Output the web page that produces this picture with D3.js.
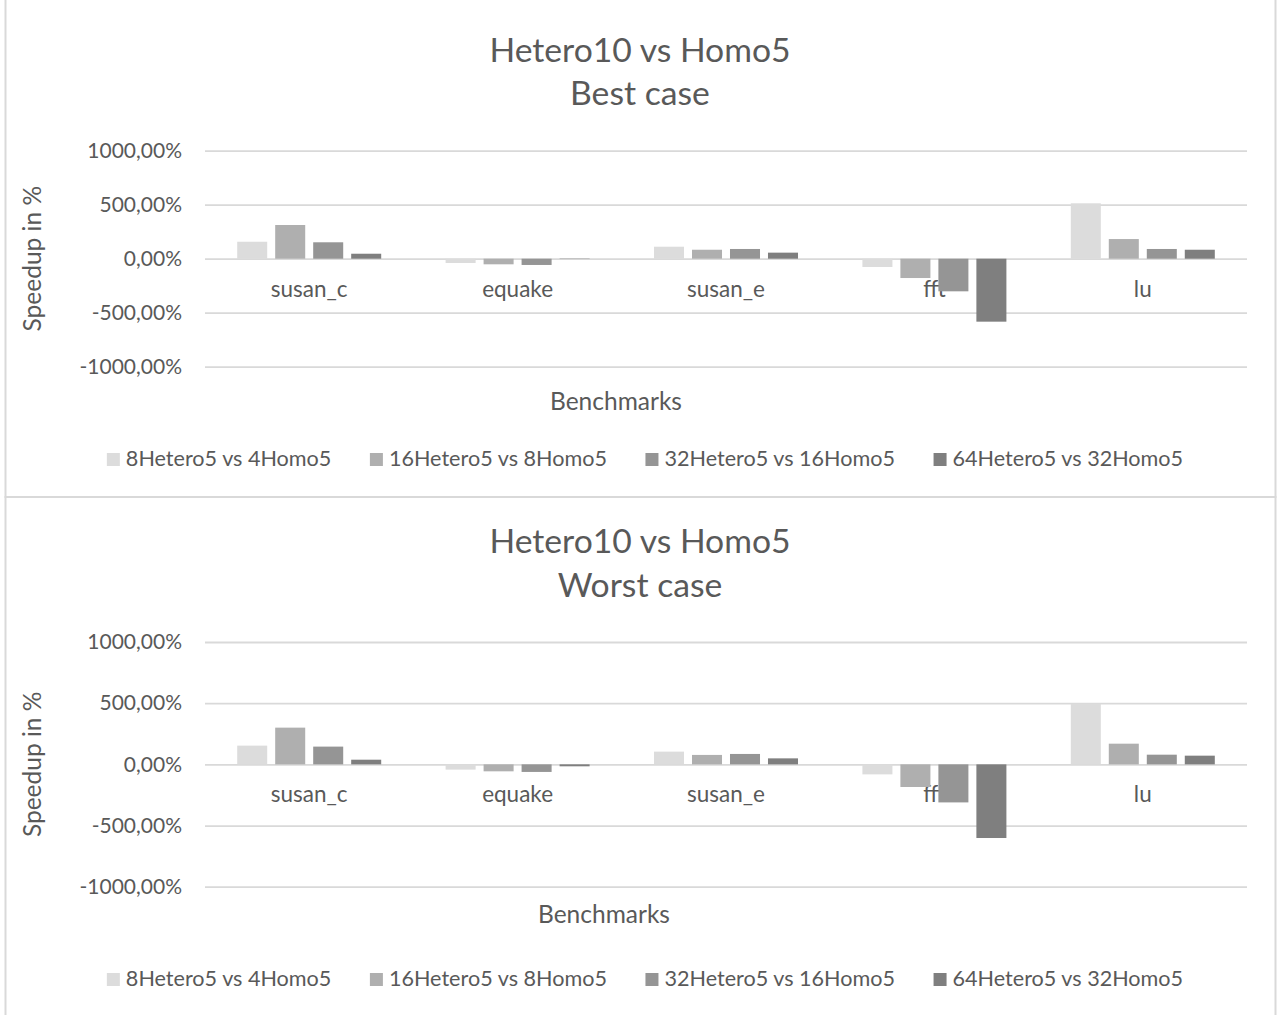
<!DOCTYPE html>
<html>
<head>
<meta charset="utf-8">
<script src="https://cdn.jsdelivr.net/npm/d3@7"></script>
<style>
  html, body { margin: 0; padding: 0; background: #ffffff; }
  svg { display: block; }
  text { font-family: Lato, "Open Sans", sans-serif; fill: #595959; }
</style>
</head>
<body>
<svg id="chart" width="1279" height="1015"></svg>
<script>
// Benchmarks on the category axis
const categories = ["susan_c", "equake", "susan_e", "fft", "lu"];

// Series names (legend order)
const seriesNames = [
  "8Hetero5 vs 4Homo5",
  "16Hetero5 vs 8Homo5",
  "32Hetero5 vs 16Homo5",
  "64Hetero5 vs 32Homo5"
];
const seriesColors = ["#dcdcdc", "#afafaf", "#959595", "#7f7f7f"];

// Speedup in %, best case
const best8vs4   = [157, -40, 111, -77, 513];
const best16vs8  = [312, -52, 83, -179, 182];
const best32vs16 = [152, -58, 90, -302, 90];
const best64vs32 = [46, -3, 56, -583, 83];

// Speedup in %, worst case
const worst8vs4   = [153, -43, 104, -82, 496];
const worst16vs8  = [300, -57, 77, -185, 169];
const worst32vs16 = [145, -62, 85, -311, 79];
const worst64vs32 = [38, -16, 49, -602, 71];

const yTicks = [-1000, -500, 0, 500, 1000];

const titleLine1 = "Hetero10 vs Homo5";
const xAxisTitle = "Benchmarks";
const yAxisTitle = "Speedup in %";

// Decimal comma, plain hyphen minus, no thousands grouping: 1000,00%
const locale = d3.formatLocale({ decimal: ",", thousands: ".", grouping: [], currency: ["", ""], minus: "-" });
const fmt = v => locale.format(".2f")(v) + "%";

const svg = d3.select("#chart");
const gridColor = "#d9d9d9";

function drawChart(cfg) {
  const g = svg.append("g");

  // chart frame
  g.append("rect")
    .attr("x", 5.5).attr("y", cfg.frameTop)
    .attr("width", 1270).attr("height", cfg.frameHeight)
    .attr("fill", "none").attr("stroke", gridColor).attr("stroke-width", 2);

  // title
  g.append("text")
    .attr("x", 640).attr("y", cfg.titleY1)
    .attr("text-anchor", "middle").style("font-size", "33.7px")
    .text(titleLine1);
  g.append("text")
    .attr("x", 640).attr("y", cfg.titleY2)
    .attr("text-anchor", "middle").style("font-size", "33.7px")
    .text(cfg.subtitle);

  const x0 = d3.scaleBand().domain(categories).range([205, 1247]).paddingInner(0).paddingOuter(0);
  const bw = x0.bandwidth();
  const x1 = d3.scaleBand().domain(d3.range(seriesNames.length))
    .range([bw * 0.1545, bw * 0.8455]).paddingInner(0.21).paddingOuter(0);
  const y = d3.scaleLinear().domain([-1000, 1000]).range([cfg.plotBottom, cfg.plotTop]);

  // gridlines + tick labels
  const yAxis = d3.axisLeft(y).tickValues(yTicks).tickFormat(fmt).tickSize(-(1247 - 205)).tickPadding(23);
  const ag = g.append("g").attr("transform", "translate(205,0)").call(yAxis);
  ag.select(".domain").remove();
  ag.selectAll(".tick line").attr("stroke", gridColor).attr("stroke-width", 1.8);
  ag.selectAll(".tick text")
    .attr("fill", "#595959").style("font-size", "21px")
    .style("font-family", "Lato, 'Open Sans', sans-serif");

  // category labels, drawn beneath the bars
  g.append("g").selectAll("text").data(categories).join("text")
    .attr("x", d => x0(d) + bw / 2)
    .attr("y", y(0) + 38)
    .attr("text-anchor", "middle").style("font-size", "22.5px")
    .text(d => d);

  // bars
  const groups = g.append("g").selectAll("g").data(categories).join("g")
    .attr("transform", d => `translate(${x0(d)},0)`);
  groups.selectAll("rect")
    .data((d, i) => cfg.series.map((s, k) => ({ k, v: s[i] })))
    .join("rect")
    .attr("x", d => x1(d.k))
    .attr("width", x1.bandwidth())
    .attr("y", d => y(Math.max(0, d.v)))
    .attr("height", d => Math.abs(y(d.v) - y(0)))
    .attr("fill", d => seriesColors[d.k]);

  // axis titles
  g.append("text")
    .attr("x", cfg.xTitleX).attr("y", cfg.xTitleY)
    .attr("text-anchor", "middle").style("font-size", "24.5px")
    .text(xAxisTitle);
  g.append("text")
    .attr("transform", `translate(41,${(cfg.plotTop + cfg.plotBottom) / 2}) rotate(-90)`)
    .attr("text-anchor", "middle").style("font-size", "24.5px")
    .text(yAxisTitle);

  // legend, centred under the plot
  const lg = g.append("g");
  const items = lg.selectAll("g").data(seriesNames).join("g");
  items.append("rect")
    .attr("width", 13).attr("height", 13)
    .attr("y", cfg.legendY - 13)
    .attr("fill", (d, i) => seriesColors[i]);
  items.append("text")
    .attr("x", 19).attr("y", cfg.legendY)
    .style("font-size", "21.6px")
    .text(d => d);
  const widths = [];
  items.each(function () { widths.push(19 + d3.select(this).select("text").node().getComputedTextLength()); });
  const gap = 38.5;
  const total = d3.sum(widths) + gap * (widths.length - 1);
  let cx = 645 - total / 2;
  items.attr("transform", (d, i) => {
    const t = `translate(${cx},0)`;
    cx += widths[i] + gap;
    return t;
  });
}

drawChart({
  frameTop: -5, frameHeight: 502,
  titleY1: 62, titleY2: 105, subtitle: "Best case",
  plotTop: 150.7, plotBottom: 366.7,
  xTitleX: 616, xTitleY: 410,
  legendY: 466,
  series: [best8vs4, best16vs8, best32vs16, best64vs32]
});

drawChart({
  frameTop: 497, frameHeight: 600,
  titleY1: 553, titleY2: 597, subtitle: "Worst case",
  plotTop: 642, plotBottom: 886.7,
  xTitleX: 604, xTitleY: 923,
  legendY: 986,
  series: [worst8vs4, worst16vs8, worst32vs16, worst64vs32]
});
</script>
</body>
</html>
